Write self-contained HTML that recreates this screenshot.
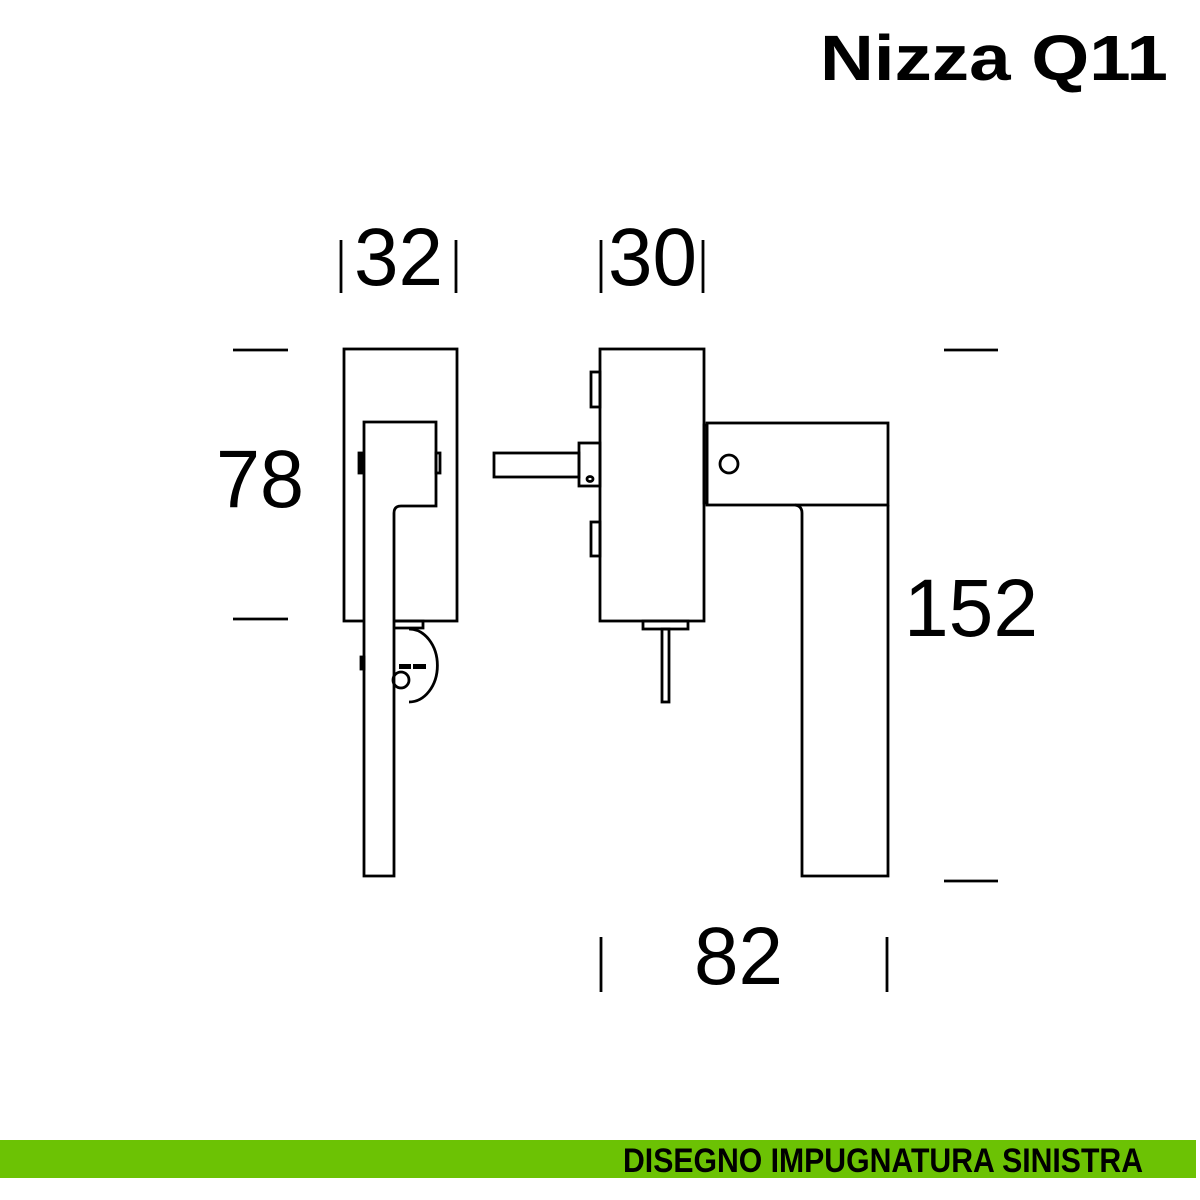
<!DOCTYPE html>
<html><head><meta charset="utf-8"><style>
html,body{margin:0;padding:0;background:#fff;width:1200px;height:1200px;overflow:hidden}
svg{display:block}
</style></head><body>
<svg width="1200" height="1200" viewBox="0 0 1200 1200" xmlns="http://www.w3.org/2000/svg">
<g font-family="Liberation Sans, sans-serif" fill="#000">
<text x="820" y="80" font-size="64" font-weight="bold" textLength="348" lengthAdjust="spacingAndGlyphs">Nizza Q11</text>
<text x="354" y="285" font-size="82" textLength="89" lengthAdjust="spacingAndGlyphs">32</text>
<text x="608" y="285" font-size="82" textLength="89" lengthAdjust="spacingAndGlyphs">30</text>
<text x="216" y="507" font-size="82" textLength="88" lengthAdjust="spacingAndGlyphs">78</text>
<text x="904" y="636" font-size="82" textLength="134" lengthAdjust="spacingAndGlyphs">152</text>
<text x="694" y="984" font-size="82" textLength="89" lengthAdjust="spacingAndGlyphs">82</text>
</g>
<rect x="0" y="1140" width="1196" height="38" fill="#6cc204"/>
<text x="623" y="1172" font-family="Liberation Sans, sans-serif" font-size="34" font-weight="bold" textLength="520" lengthAdjust="spacingAndGlyphs" fill="#000">DISEGNO IMPUGNATURA SINISTRA</text>
<g stroke="#000" stroke-width="2.8" fill="none">
<line x1="341" y1="240" x2="341" y2="293"/><line x1="456" y1="240" x2="456" y2="293"/>
<line x1="601" y1="240" x2="601" y2="293"/><line x1="703" y1="240" x2="703" y2="293"/>
<line x1="233" y1="350" x2="288" y2="350"/><line x1="233" y1="619" x2="288" y2="619"/>
<line x1="944" y1="350" x2="998" y2="350"/><line x1="944" y1="881" x2="998" y2="881"/>
<line x1="601" y1="937" x2="601" y2="992"/><line x1="887" y1="937" x2="887" y2="992"/>
<rect x="344" y="349" width="113" height="272"/>
<path d="M364 876 V422 H436 V506 H401 Q394 506 394 513 V876 Z" fill="#fff"/>
<path d="M394 621 H423 V628 H394"/>
<path d="M409 629 A28 36 0 0 1 409 702"/>
<circle cx="401" cy="680" r="8"/>
<rect x="359" y="453" width="4" height="20" fill="#000"/>
<rect x="436" y="453" width="4" height="20"/>
<rect x="361" y="657" width="3" height="12" fill="#000"/>
<rect x="600" y="349" width="104" height="272"/>
<rect x="591" y="372" width="9" height="35"/>
<rect x="591" y="522" width="9" height="34"/>
<rect x="579" y="443" width="21" height="43"/>
<rect x="494" y="453" width="85" height="24"/>
<ellipse cx="590" cy="479" rx="3" ry="2.5"/>
<rect x="643" y="621" width="45" height="8"/>
<rect x="662" y="629" width="7" height="73"/>
<rect x="704" y="425" width="3" height="78"/>
<rect x="707" y="423" width="181" height="82"/>
<circle cx="729" cy="464" r="9"/>
<path d="M795 505 Q802 506 802 513 V876 H888 V505"/>
</g>
<g fill="#000"><rect x="399" y="664" width="12" height="5"/><rect x="413" y="664" width="13" height="5"/></g>
</svg>
</body></html>
